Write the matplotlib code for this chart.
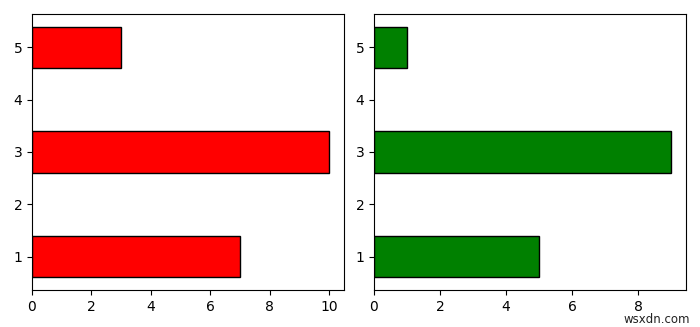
import matplotlib
matplotlib.use("Agg")
import matplotlib.pyplot as plt

y_pos = [1, 3, 5]
left_values = [7, 10, 3]
right_values = [5, 9, 1]
yticks = [1, 2, 3, 4, 5]

fig = plt.figure(figsize=(7, 3.27), dpi=100)
ax1 = fig.add_axes([32/700, 1-290/327, 312/700, 276/327])
ax2 = fig.add_axes([374/700, 1-290/327, 312/700, 276/327])

ax1.barh(y_pos, left_values, height=0.8, color="red", edgecolor="black")
ax2.barh(y_pos, right_values, height=0.8, color="green", edgecolor="black")
for ax in (ax1, ax2):
    ax.set_yticks(yticks)

fig.text(690/700, 1-326/327, "wsxdn.com", ha="right", va="bottom", fontsize=8.5, color="#222222")
fig.savefig("out.png", dpi=100)
